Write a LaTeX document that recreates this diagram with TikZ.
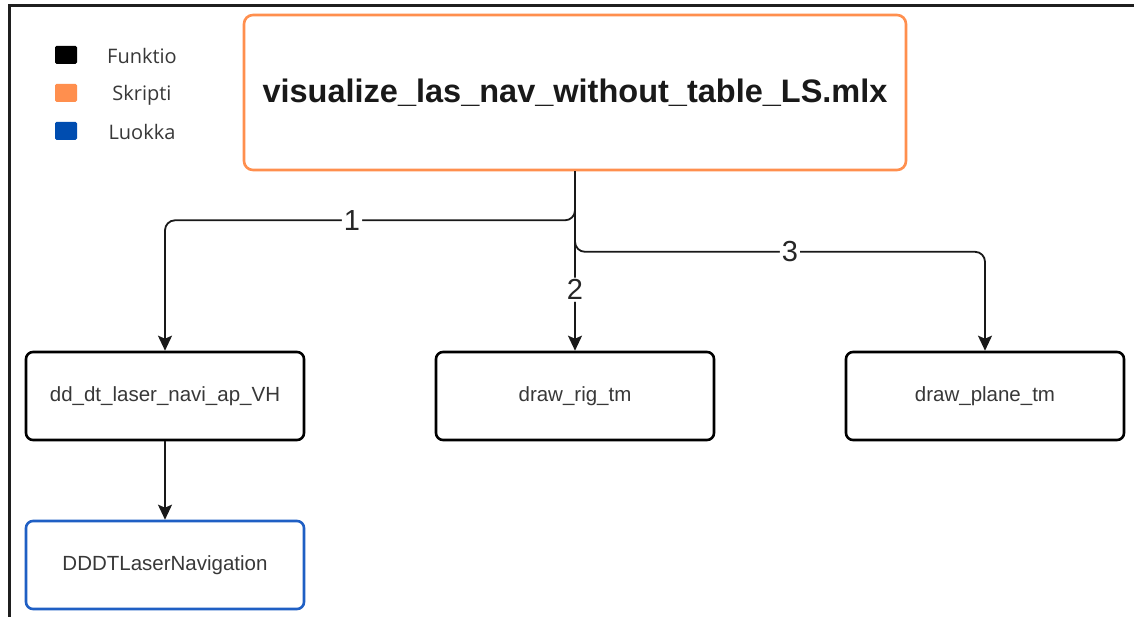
\documentclass[tikz,border=0pt]{standalone}
\usepackage{fontspec}
\setmainfont{Liberation Sans}
\newfontfamily\legendfont{Open Sans}
\usetikzlibrary{arrows.meta}
\definecolor{skriptorange}{HTML}{FF8F4E}
\definecolor{luokkablue}{HTML}{004DB0}
\definecolor{classedge}{HTML}{1F5FC4}
\definecolor{boxtext}{HTML}{383838}
\tikzset{
  funcbox/.style={draw=black, line width=2.6pt, rounded corners=7pt, fill=white,
    minimum width=278pt, minimum height=88pt, inner sep=0pt,
    font=\fontsize{20.5}{24}\selectfont, text=boxtext},
  classbox/.style={funcbox, draw=classedge},
  scriptbox/.style={draw=skriptorange, line width=2.6pt, rounded corners=9pt, fill=white,
    minimum width=662pt, minimum height=155pt, inner sep=0pt,
    font=\fontsize{32.5}{38}\selectfont\bfseries, text=black!90},
  conn/.style={draw=black!90, line width=1.8pt, rounded corners=10pt,
    -{Stealth[length=15pt,width=14pt,inset=3pt]}},
  lbl/.style={fill=white, inner sep=2pt, font=\fontsize{29}{32}\selectfont, text=black!85},
  swatch/.style={minimum width=22pt, minimum height=18pt, inner sep=0pt, rounded corners=1.5pt},
  legendtext/.style={font=\legendfont\fontsize{20}{23}\selectfont, text=boxtext},
}
\begin{document}
\begin{tikzpicture}[x=1pt, y=-1pt]
  \useasboundingbox (0,0) rectangle (1134,617);
  \fill[white] (0,0) rectangle (1134,617);
  % frame edges
  \draw[line width=3pt, draw=black!88] (9,617) -- (9,6) -- (1134,6);

  % legend
  \node[swatch, fill=black] (swf) at (66,55) {};
  \node[swatch, fill=skriptorange] (sws) at (66,93) {};
  \node[swatch, fill=luokkablue] (swl) at (66,131) {};
  \node[legendtext] (lf) at (142,56) {Funktio};
  \node[legendtext] (ls) at (142,95) {Skripti};
  \node[legendtext] (ll) at (142,132) {Luokka};

  % nodes
  \node[scriptbox] (script) at (575,92.5) {visualize\_las\_nav\_without\_table\_LS.mlx};
  \node[funcbox] (fa) at (165,396) {dd\_dt\_laser\_navi\_ap\_VH};
  \node[funcbox] (rig) at (575,396) {draw\_rig\_tm};
  \node[funcbox] (plane) at (985,396) {draw\_plane\_tm};
  \node[classbox] (cls) at (165,565) {DDDTLaserNavigation};

  % connectors
  \draw[conn] (script.south) -- ++(0,49) -- node[lbl, pos=0.544] {1} ++(-410,0) -- (fa.north);
  \draw[conn] (script.south) -- ++(0,80.5) -- node[lbl, pos=0.524] {3} ++(410,0) -- (plane.north);
  \draw[conn] (script.south) -- node[lbl, pos=0.66] {2} (rig.north);
  \draw[conn] (fa.south) -- (cls.north);
\end{tikzpicture}
\end{document}
